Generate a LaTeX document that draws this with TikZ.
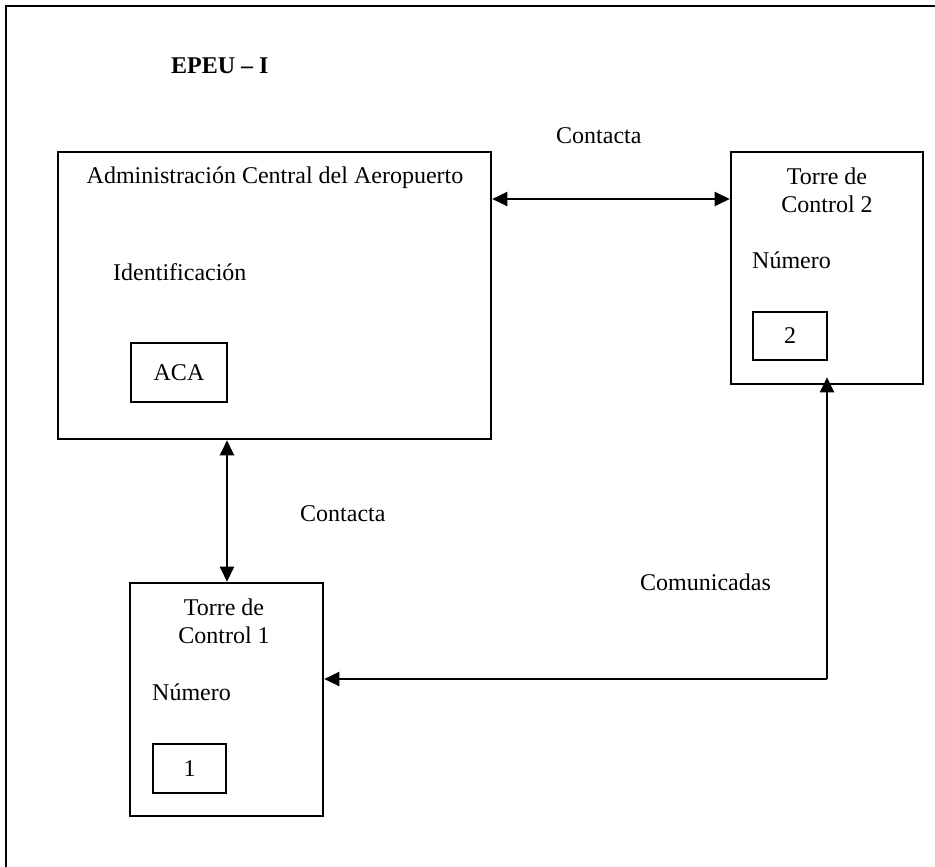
\documentclass[tikz,border=0pt]{standalone}
\usepackage{fontspec}
\setmainfont{Liberation Serif}
\usetikzlibrary{arrows.meta,calc}
\begin{document}
\begin{tikzpicture}[x=1bp,y=-1bp,
  box/.style={draw,line width=2.6bp,inner sep=0pt},
  lbl/.style={inner sep=0pt,font=\fontsize{24bp}{27.5bp}\selectfont},
  conn/.style={line width=2.5bp,-{Triangle[length=15bp,width=14bp]}},
  biconn/.style={line width=2.5bp,{Triangle[length=15bp,width=14bp]}-{Triangle[length=15bp,width=14bp]}}]
\useasboundingbox (0,0) rectangle (935,867);
% outer frame (top and left visible)
\draw[line width=2bp] (6,867) -- (6,6) -- (935,6);
% boxes
\node[box,minimum width=433bp,minimum height=287bp] (aca) at (274.5,295.5) {};
\node[box,minimum width=96bp,minimum height=59bp] (acaid) at (179,372.5) {};
\node[box,minimum width=192bp,minimum height=232bp] (t2) at (827,268) {};
\node[box,minimum width=74bp,minimum height=48bp] (t2id) at (790,336) {};
\node[box,minimum width=193bp,minimum height=233bp] (t1) at (226.5,699.5) {};
\node[box,minimum width=73bp,minimum height=49bp] (t1id) at (189.5,768.5) {};
% texts
\node[lbl,font=\fontsize{24bp}{27.5bp}\selectfont\bfseries,anchor=west] (title) at (171,66) {EPEU – I};
\node[lbl] (acaname) at (275,178) {Administración Central del Aeropuerto};
\node[lbl,anchor=west] (acaidl) at (113,272) {Identificación};
\node[lbl] (acaidv) at (acaid) {ACA};
\node[lbl,align=center] (t2name) at (827,190.5) {Torre de\\Control 2};
\node[lbl,anchor=west] (t2num) at (752,260) {Número};
\node[lbl] (t2idv) at (t2id) {2};
\node[lbl,align=center] (t1name) at (224,621.5) {Torre de\\Control 1};
\node[lbl,anchor=west] (t1num) at (152,692) {Número};
\node[lbl] (t1idv) at (t1id) {1};
\node[lbl,anchor=west] (c1) at (556,136) {Contacta};
\node[lbl,anchor=west] (c2) at (300,514) {Contacta};
\node[lbl,anchor=west] (c3) at (640,582) {Comunicadas};
% connectors
\coordinate (hy) at (0,199);
\coordinate (vx) at (227,0);
\coordinate (cx) at (827,0);
\coordinate (bend) at (827,679);
\draw[biconn] (aca.east |- hy) -- (t2.west |- hy);
\draw[biconn] (aca.south -| vx) -- (t1.north -| vx);
\draw[conn] (bend) -- ([yshift=8bp]t2.south -| cx);
\draw[conn] (bend) -- (t1.east |- bend);
\end{tikzpicture}
\end{document}
